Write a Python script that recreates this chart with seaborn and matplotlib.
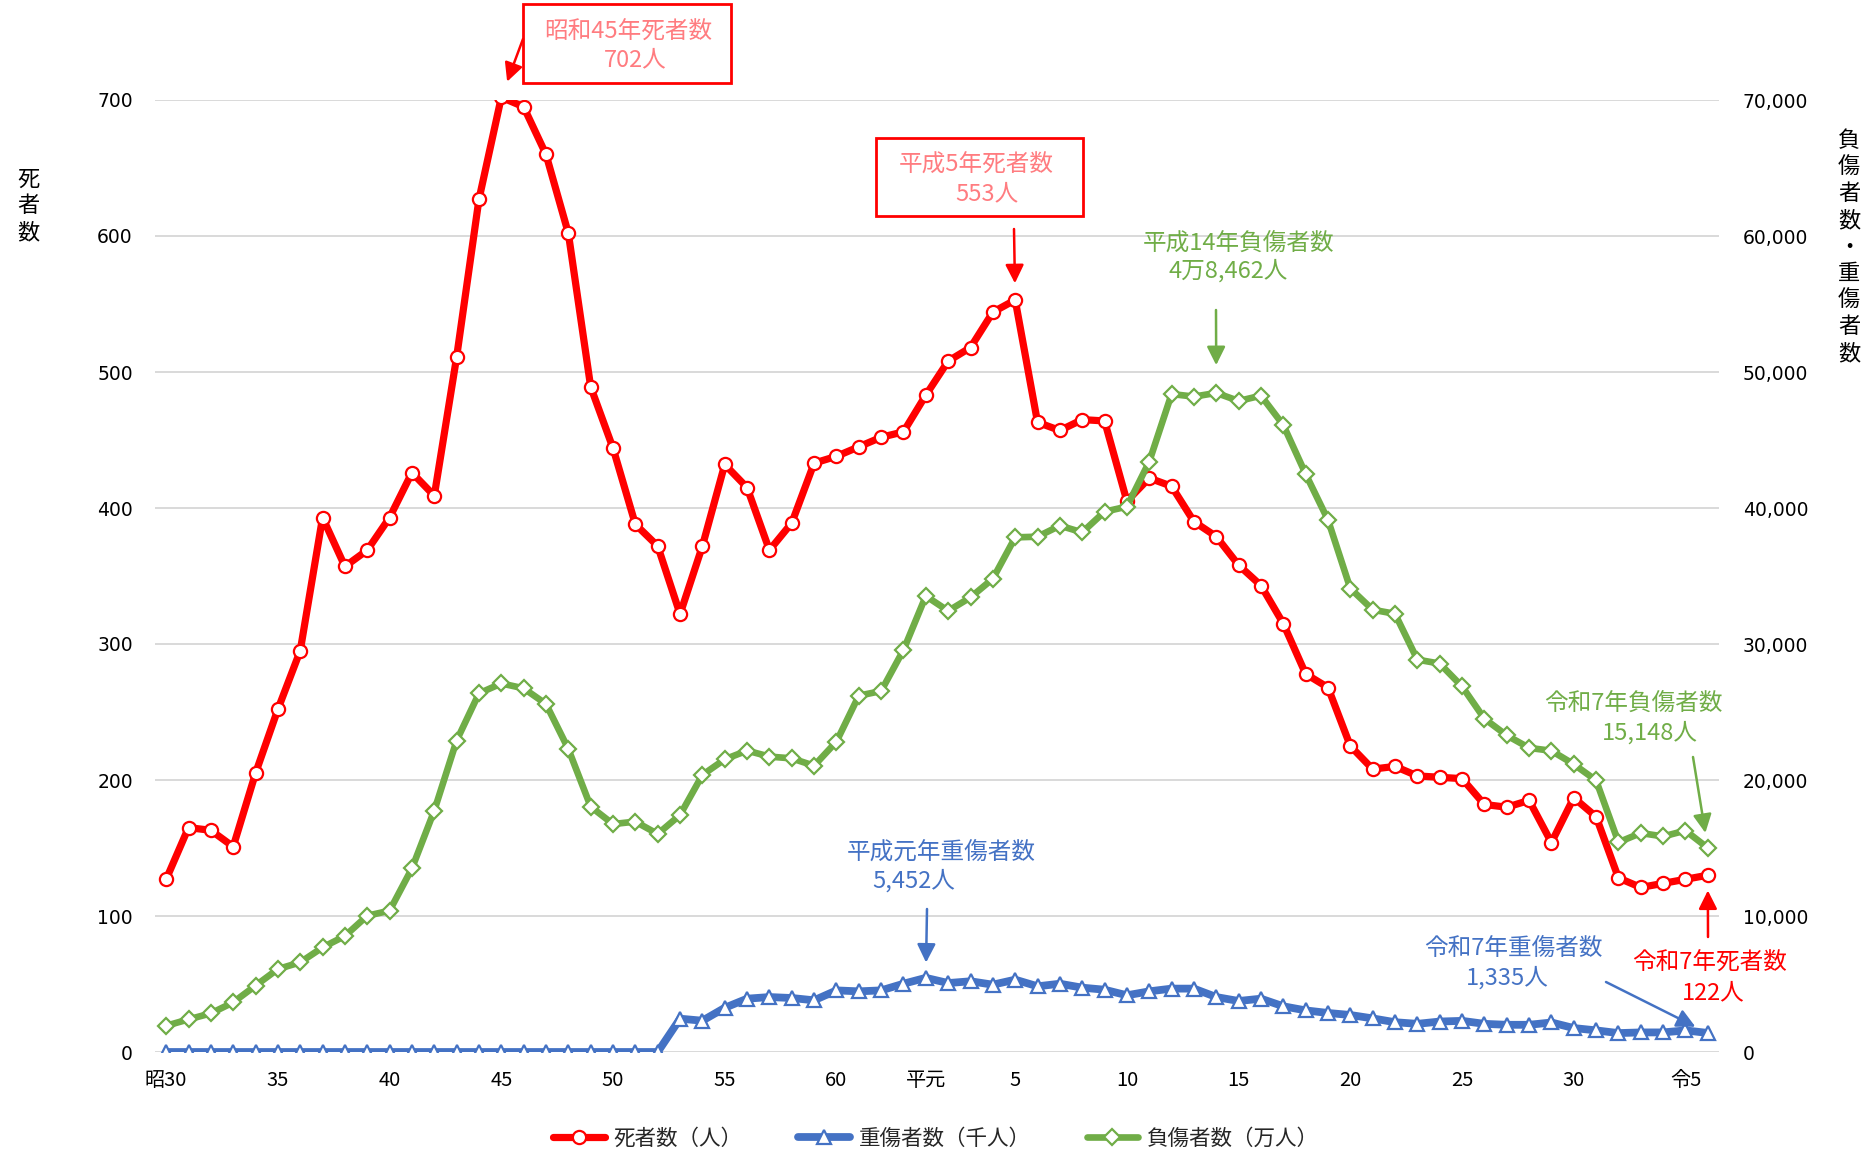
import matplotlib
matplotlib.use("Agg")
import matplotlib.pyplot as plt
import seaborn as sns
import numpy as np
import pandas as pd
from matplotlib.patches import Rectangle
from matplotlib.lines import Line2D
from matplotlib.ticker import FuncFormatter

# ---------------- data ----------------
years_idx = list(range(70))  # 昭和30年(1955) ...
tick_pos = [0, 5, 10, 15, 20, 25, 30, 34, 38, 43, 48, 53, 58, 63, 68]
tick_labels = ["昭30", "35", "40", "45", "50", "55", "60", "平元", "5", "10",
               "15", "20", "25", "30", "令5"]

deaths = [127, 165, 163, 151, 205, 252, 295, 393, 357, 369,
          393, 426, 409, 511, 627, 702, 695, 660, 602, 489,
          444, 388, 372, 322, 372, 432, 415, 369, 389, 433,
          438, 445, 452, 456, 483, 508, 518, 544, 553, 463,
          457, 465, 464, 405, 422, 416, 390, 379, 358, 343,
          315, 278, 268, 225, 208, 210, 203, 202, 201, 182,
          180, 185, 154, 187, 173, 128, 121, 124, 127, 130]

serious = [0] * 23 + [
    2450, 2300, 3250, 3920, 4040, 3970, 3800,
    4530, 4460, 4530, 5020, 5452, 5070, 5200, 4950, 5320, 4830,
    5020, 4730, 4580, 4170, 4460, 4660, 4660, 4040, 3750, 3920,
    3360, 3060, 2870, 2720, 2470, 2190, 2070, 2240, 2290, 2070,
    2000, 2000, 2170, 1760, 1590, 1390, 1440, 1440, 1590, 1400]

injured = [1930, 2400, 2840, 3650, 4880, 6100, 6590, 7690, 8530, 10020,
           10390, 13500, 17750, 22900, 26370, 27100, 26740, 25590, 22280, 18040,
           16760, 16940, 16030, 17430, 20370, 21520, 22160, 21720, 21590, 21050,
           22820, 26200, 26540, 29560, 33530, 32430, 33430, 34800, 37840, 37890,
           38700, 38210, 39730, 40100, 43410, 48380, 48190, 48462, 47870, 48260,
           46100, 42500, 39120, 34080, 32520, 32220, 28850, 28560, 26880, 24510,
           23280, 22360, 22150, 21160, 19970, 15420, 16100, 15850, 16280, 15000]

legend_labels = ["死者数（人）", "重傷者数（千人）", "負傷者数（万人）"]

RED = "#FF0000"
BLUE = "#4472C4"
GREEN = "#70AD47"
PINK = "#FF7C80"

# ---------------- figure ----------------
sns.set_theme(style="white")
plt.rcParams["font.family"] = ["Noto Sans CJK JP", "DejaVu Sans"]

W, H = 1865, 1154
fig = plt.figure(figsize=(W / 100, H / 100), dpi=100)
ax = fig.add_axes([155 / W, 1 - 1052 / H, (1719 - 155) / W, (1052 - 100) / H])
ax2 = ax.twinx()

df = pd.DataFrame({"x": years_idx, "deaths": deaths,
                   "serious": serious, "injured": injured})

red_kw = dict(color=RED, lw=5.2, marker="o", markersize=9.5, markerfacecolor="white",
              markeredgecolor=RED, markeredgewidth=1.6)
blue_kw = dict(color=BLUE, lw=5.6, marker="^", markersize=10, markerfacecolor="white",
               markeredgecolor=BLUE, markeredgewidth=1.6)
green_kw = dict(color=GREEN, lw=4.8, marker="D", markersize=7.8, markerfacecolor="white",
                markeredgecolor=GREEN, markeredgewidth=1.6)

sns.lineplot(data=df, x="x", y="deaths", ax=ax, legend=False, **red_kw)
sns.lineplot(data=df, x="x", y="serious", ax=ax2, legend=False, **blue_kw)
sns.lineplot(data=df, x="x", y="injured", ax=ax2, legend=False, **green_kw)

ax.set_xlim(-0.5, 69.5)
ax.set_ylim(0, 700)
ax2.set_ylim(0, 70000)
ax.set_yticks(range(0, 701, 100))
ax2.set_yticks(range(0, 70001, 10000))
ax2.yaxis.set_major_formatter(FuncFormatter(lambda v, p: f"{int(v):,}"))
ax.set_xticks(tick_pos)
ax.set_xticklabels(tick_labels)

ax.set_xlabel("")
ax.set_ylabel("")
ax2.set_ylabel("")

ax.yaxis.grid(True, color="#D9D9D9", lw=1.4)
ax.xaxis.grid(False)
ax2.grid(False)
ax.set_axisbelow(True)
for a in (ax, ax2):
    for s in a.spines.values():
        s.set_visible(False)

ax.tick_params(axis="x", length=0, pad=13, labelsize=14.5, colors="black")
ax.tick_params(axis="y", length=0, pad=16, labelsize=13.5, colors="black")
ax2.tick_params(axis="y", length=0, pad=17, labelsize=13.5, colors="black")
for lab in ax.get_yticklabels() + ax2.get_yticklabels():
    lab.set_family("DejaVu Sans")

# axis titles (vertical, stacked characters)
fig.text(28.5 / W, 1 - 206 / H, "死\n者\n数", ha="center", va="center",
         fontsize=16, linespacing=1.2, color="black")
fig.text(1849 / W, 1 - 247 / H, "負\n傷\n者\n数\n・\n重\n傷\n者\n数",
         ha="center", va="center", fontsize=16, linespacing=1.2, color="black")

# legend
handles = [
    Line2D([], [], **red_kw),
    Line2D([], [], **blue_kw),
    Line2D([], [], **green_kw),
]
fig.legend(handles, legend_labels, loc="center", bbox_to_anchor=(936 / W, 1 - 1139 / H),
           ncol=3, frameon=False, fontsize=15.5, handlelength=2.4,
           handletextpad=0.4, columnspacing=2.6)

# ---------------- annotations ----------------
def fpx(x, y):
    return (x, H - y)

arrow_kw = dict(arrowstyle="-|>,head_length=0.7,head_width=0.35", lw=1.8,
                shrinkA=0, mutation_scale=16)
FS = 17

# 昭和45年 box
fig.add_artist(Rectangle((523 / W, 1 - 83 / H), (731 - 523) / W, (83 - 3.5) / H,
                         transform=fig.transFigure, fill=False, ec=RED, lw=2))
fig.text(628 / W, 1 - 32 / H, "昭和45年死者数", color=PINK, ha="center", va="center", fontsize=FS)
fig.text(635 / W, 1 - 60 / H, "702人", color=PINK, ha="center", va="center", fontsize=FS)
ax.annotate("", xy=(15, deaths[15]), xycoords="data", xytext=fpx(523, 39),
            textcoords="figure pixels", annotation_clip=False,
            arrowprops=dict(color=RED, shrinkB=12, **arrow_kw))

# 平成5年 box
fig.add_artist(Rectangle((876 / W, 1 - 216 / H), (1083 - 876) / W, (216 - 138) / H,
                         transform=fig.transFigure, fill=False, ec=RED, lw=2))
fig.text(976 / W, 1 - 165 / H, "平成5年死者数", color=PINK, ha="center", va="center", fontsize=FS)
fig.text(987 / W, 1 - 194 / H, "553人", color=PINK, ha="center", va="center", fontsize=FS)
ax.annotate("", xy=(38, deaths[38]), xycoords="data", xytext=fpx(1014, 229),
            textcoords="figure pixels", annotation_clip=False,
            arrowprops=dict(color=RED, shrinkB=12, **arrow_kw))

# 平成14年 負傷者数
fig.text(1239 / W, 1 - 243 / H, "平成14年負傷者数", color=GREEN, ha="center", va="center", fontsize=FS)
fig.text(1228 / W, 1 - 271 / H, "4万8,462人", color=GREEN, ha="center", va="center", fontsize=FS)
ax2.annotate("", xy=(47, injured[47]), xycoords="data", xytext=fpx(1216, 310),
             textcoords="figure pixels", annotation_clip=False,
             arrowprops=dict(color=GREEN, shrinkB=20, **arrow_kw))

# 平成元年 重傷者数
fig.text(941 / W, 1 - 852 / H, "平成元年重傷者数", color=BLUE, ha="center", va="center", fontsize=FS)
fig.text(914 / W, 1 - 881 / H, "5,452人", color=BLUE, ha="center", va="center", fontsize=FS)
ax2.annotate("", xy=(34, serious[34]), xycoords="data", xytext=fpx(927, 909),
             textcoords="figure pixels", annotation_clip=False,
             arrowprops=dict(color=BLUE, shrinkB=11, **arrow_kw))

# 令和7年 負傷者数
fig.text(1633 / W, 1 - 703 / H, "令和7年負傷者数", color=GREEN, ha="center", va="center", fontsize=FS)
fig.text(1650 / W, 1 - 733 / H, "15,148人", color=GREEN, ha="center", va="center", fontsize=FS)
ax2.annotate("", xy=(69, injured[69]), xycoords="data", xytext=fpx(1693, 757),
             textcoords="figure pixels", annotation_clip=False,
             arrowprops=dict(color=GREEN, shrinkB=11, **arrow_kw))

# 令和7年 重傷者数
fig.text(1513 / W, 1 - 948 / H, "令和7年重傷者数", color=BLUE, ha="center", va="center", fontsize=FS)
fig.text(1507 / W, 1 - 978 / H, "1,335人", color=BLUE, ha="center", va="center", fontsize=FS)
ax2.annotate("", xy=(69, serious[69]), xycoords="data", xytext=fpx(1606, 982),
             textcoords="figure pixels", annotation_clip=False,
             arrowprops=dict(color=BLUE, shrinkB=10, **arrow_kw))

# 令和7年 死者数
fig.text(1710 / W, 1 - 963 / H, "令和7年死者数", color=RED, ha="center", va="center", fontsize=FS)
fig.text(1713 / W, 1 - 993 / H, "122人", color=RED, ha="center", va="center", fontsize=FS)
ax.annotate("", xy=(69, deaths[69]), xycoords="data", xytext=fpx(1708, 937),
            textcoords="figure pixels", annotation_clip=False,
            arrowprops=dict(color=RED, shrinkB=11, **arrow_kw))

fig.savefig("out.png", dpi=100)
